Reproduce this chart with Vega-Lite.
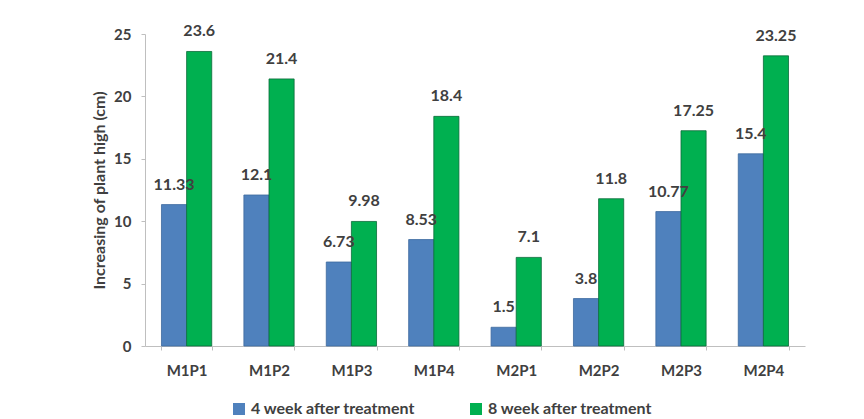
{
  "$schema": "https://vega.github.io/schema/vega-lite/v6.json",
  "width": 660,
  "height": 312,
  "autosize": "none",
  "padding": {"left": 145, "top": 34, "right": 59, "bottom": 73},
  "background": "white",
  "config": {
    "view": {"stroke": null},
    "font": "Lato",
    "axis": {
      "labelFont": "Lato",
      "labelFontWeight": "bold",
      "labelColor": "#404040",
      "titleFont": "Lato",
      "titleFontWeight": "bold",
      "titleColor": "#404040",
      "domainColor": "#BFBFBF",
      "tickColor": "#BFBFBF",
      "grid": false
    },
    "legend": {
      "labelFont": "Lato",
      "labelFontWeight": "bold",
      "labelColor": "#404040",
      "labelFontSize": 16,
      "labelLimit": 400
    }
  },
  "data": {
    "values": [
      {"treatment": "M1P1", "period": "4 week after treatment", "growth": 11.33},
      {"treatment": "M1P1", "period": "8 week after treatment", "growth": 23.6},
      {"treatment": "M1P2", "period": "4 week after treatment", "growth": 12.1},
      {"treatment": "M1P2", "period": "8 week after treatment", "growth": 21.4},
      {"treatment": "M1P3", "period": "4 week after treatment", "growth": 6.73},
      {"treatment": "M1P3", "period": "8 week after treatment", "growth": 9.98},
      {"treatment": "M1P4", "period": "4 week after treatment", "growth": 8.53},
      {"treatment": "M1P4", "period": "8 week after treatment", "growth": 18.4},
      {"treatment": "M2P1", "period": "4 week after treatment", "growth": 1.5},
      {"treatment": "M2P1", "period": "8 week after treatment", "growth": 7.1},
      {"treatment": "M2P2", "period": "4 week after treatment", "growth": 3.8},
      {"treatment": "M2P2", "period": "8 week after treatment", "growth": 11.8},
      {"treatment": "M2P3", "period": "4 week after treatment", "growth": 10.77},
      {"treatment": "M2P3", "period": "8 week after treatment", "growth": 17.25},
      {"treatment": "M2P4", "period": "4 week after treatment", "growth": 15.4},
      {"treatment": "M2P4", "period": "8 week after treatment", "growth": 23.25}
    ]
  },
  "encoding": {
    "x": {
      "field": "treatment",
      "type": "nominal",
      "sort": null,
      "scale": {"paddingInner": 0.39, "paddingOuter": 0.2},
      "axis": {
        "title": null,
        "labelAngle": 0,
        "labelFontSize": 15,
        "labelPadding": 13,
        "tickBand": "extent",
        "tickSize": 4
      }
    },
    "xOffset": {"field": "period", "type": "nominal"},
    "y": {
      "field": "growth",
      "type": "quantitative",
      "scale": {"domain": [0, 25], "nice": false},
      "axis": {
        "title": "Increasing of plant high (cm)",
        "titleFontSize": 16,
        "titlePadding": 6,
        "values": [0, 5, 10, 15, 20, 25],
        "labelFontSize": 15,
        "labelPadding": 10,
        "tickSize": 4
      }
    }
  },
  "layer": [
    {
      "mark": {"type": "bar", "strokeWidth": 0.8},
      "encoding": {
        "color": {
          "field": "period",
          "type": "nominal",
          "scale": {"range": ["#4F81BD", "#00B050"]},
          "legend": {
            "title": null,
            "orient": "none",
            "legendX": 86,
            "legendY": 367,
            "direction": "horizontal",
            "symbolType": "square",
            "symbolSize": 144,
            "symbolStrokeWidth": 0,
            "columnPadding": 52,
            "labelOffset": 4
          }
        },
        "stroke": {
          "field": "period",
          "type": "nominal",
          "scale": {"range": ["#3D6A9E", "#0B6B3A"]},
          "legend": null
        }
      }
    },
    {
      "mark": {
        "type": "text",
        "baseline": "middle",
        "dy": -20,
        "font": "Lato",
        "fontWeight": "bold",
        "fontSize": 16,
        "color": "#404040"
      },
      "encoding": {
        "text": {"field": "growth", "type": "quantitative"}
      }
    }
  ]
}
